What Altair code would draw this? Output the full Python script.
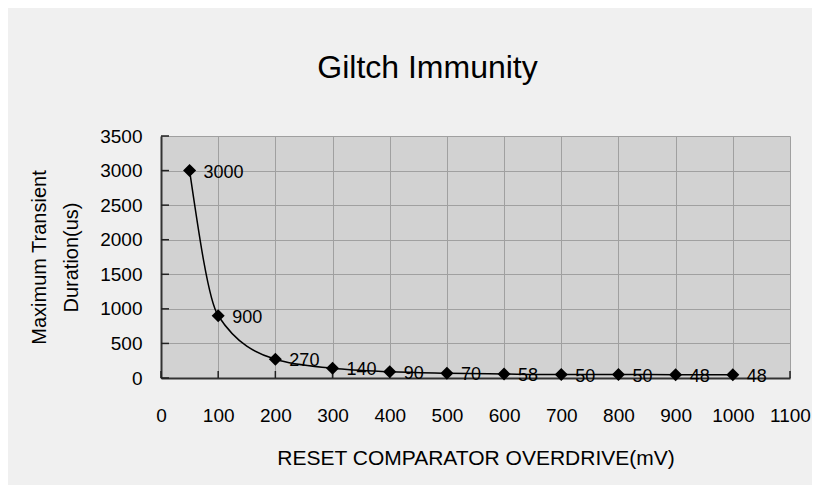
import altair as alt
import pandas as pd

overdrive = [50, 100, 200, 300, 400, 500, 600, 700, 800, 900, 1000]
duration = [3000, 900, 270, 140, 90, 70, 58, 50, 50, 48, 48]
x_ticks = [0, 100, 200, 300, 400, 500, 600, 700, 800, 900, 1000, 1100]
y_ticks = [0, 500, 1000, 1500, 2000, 2500, 3000, 3500]

FONT = "Liberation Sans"

df = pd.DataFrame({"x": overdrive, "y": duration, "label": [str(v) for v in duration]})
yt = pd.DataFrame({"y": y_ticks})
xt = pd.DataFrame({"x": x_ticks})

xscale = alt.Scale(domain=[0, 1100], nice=False)
yscale = alt.Scale(domain=[0, 3500], nice=False)

xaxis = alt.Axis(values=x_ticks, title="RESET COMPARATOR OVERDRIVE(mV)", ticks=False, format="d",
                 labelPadding=28, titlePadding=22, labelFontSize=19, titleFontSize=21,
                 gridColor="#a0a0a0", labelFlush=False, labelOverlap=False)
yaxis = alt.Axis(values=y_ticks, title=["Maximum Transient", "Duration(us)"], ticks=False, format="d",
                 labelPadding=19, titlePadding=18, labelFontSize=19, titleFontSize=20,
                 titleLineHeight=32, gridColor="#a0a0a0", labelFlush=False, labelOverlap=False)

X = alt.X("x:Q", scale=xscale, axis=xaxis)
Y = alt.Y("y:Q", scale=yscale, axis=yaxis)

base = alt.Chart(df)

line = base.mark_line(color="black", strokeWidth=1.5, interpolate="monotone").encode(x=X, y=Y)
pts = base.mark_point(shape="diamond", filled=True, color="black", size=170, opacity=1).encode(x=X, y=Y)
labels = base.mark_text(align="left", baseline="middle", dx=14, dy=2, fontSize=18,
                        font=FONT, color="black").encode(x=X, y=Y, text="label:N")
yt_marks = alt.Chart(yt).mark_rule(color="#222222", strokeWidth=1.5).encode(
    y=Y, x=alt.value(0), x2=alt.value(8)
)
xt_marks = alt.Chart(xt).mark_rule(color="#222222", strokeWidth=1.5).encode(
    x=X, y=alt.value(242), y2=alt.value(235)
)

chart = alt.layer(line, yt_marks, xt_marks, pts, labels).properties(
    width=629, height=242,
    title=alt.TitleParams("Giltch Immunity", fontSize=32, font=FONT, fontWeight="normal",
                          color="black", anchor="middle", dx=-48, offset=17,
                          baseline="alphabetic"),
    autosize=alt.AutoSizeParams(type="none"),
    padding={"left": 153, "top": 128, "right": 22, "bottom": 107},
).configure(
    background="#f0f0f0",
    font=FONT,
).configure_view(
    fill="#d2d2d2", stroke=None
).configure_axis(
    labelFont=FONT, titleFont=FONT, labelColor="black", titleColor="black",
    titleFontWeight="normal", domainColor="#333333", domainWidth=2, gridWidth=1,
)

chart.save("out.html", embed_options={"renderer": "svg", "actions": False})
